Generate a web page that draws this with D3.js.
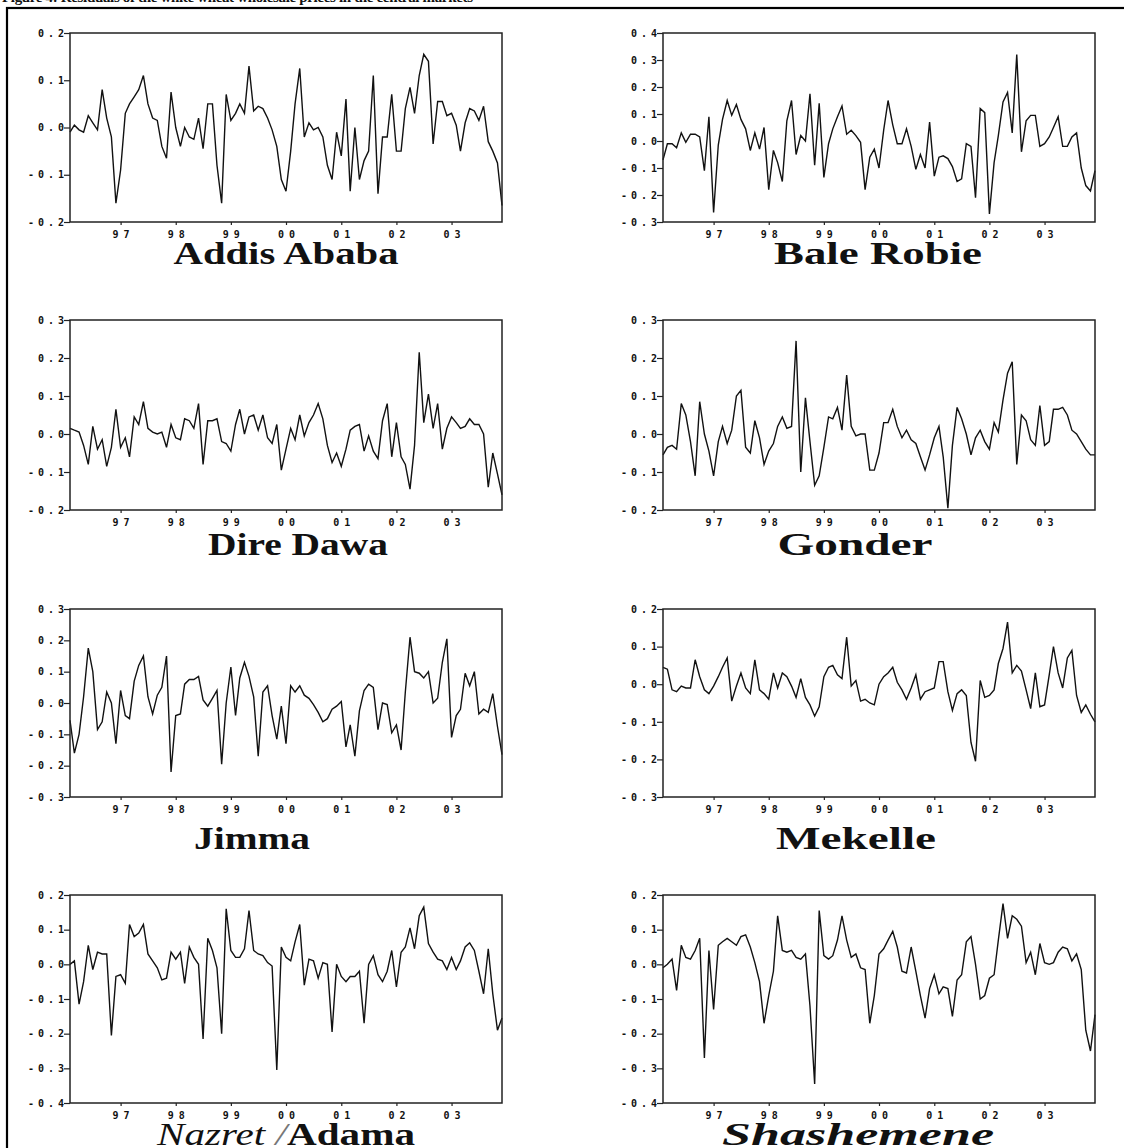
<!DOCTYPE html>
<html>
<head>
<meta charset="utf-8">
<script src="https://cdn.jsdelivr.net/npm/d3@7"></script>
<style>
  body { margin: 0; background: #fff; }
  .tick text { font-family: "DejaVu Sans Mono", monospace; font-weight: bold; font-size: 10px; fill: #111; }
  .domain { display: none; }
  .tick line { stroke: #222; stroke-width: 1.2; }
  .frame { fill: none; stroke: #222; stroke-width: 1.5; }
  .series { fill: none; stroke: #111; stroke-width: 1.4; }
  .title { font-family: "Liberation Serif", "Times New Roman", serif; fill: #111; }
</style>
</head>
<body>
<svg id="figure" width="1124" height="1148"></svg>
<script>
// monthly residuals, Feb 1996 .. Dec 2003 (95 obs per market)
var cities = ["Addis Ababa", "Bale Robie", "Dire Dawa", "Gonder", "Jimma", "Mekelle", "Nazret /Adama", "Shashemene"];

var addisAbaba = [-0.01,0.005,-0.005,-0.01,0.025,0.01,-0.005,0.08,0.02,-0.02,
  -0.16,-0.09,0.03,0.05,0.065,0.08,0.11,0.05,0.02,0.015,
  -0.04,-0.065,0.075,0.0,-0.04,0.0,-0.02,-0.025,0.02,-0.045,
  0.05,0.05,-0.08,-0.16,0.07,0.015,0.03,0.05,0.03,0.13,
  0.035,0.045,0.04,0.02,-0.005,-0.04,-0.11,-0.135,-0.05,0.05,
  0.125,-0.02,0.01,-0.005,0.0,-0.02,-0.08,-0.11,-0.01,-0.06,
  0.06,-0.135,0.0,-0.11,-0.07,-0.05,0.11,-0.14,-0.02,-0.02,
  0.07,-0.05,-0.05,0.04,0.085,0.03,0.11,0.155,0.14,-0.035,
  0.055,0.055,0.025,0.03,0.005,-0.05,0.01,0.04,0.035,0.015,
  0.045,-0.03,-0.05,-0.075,-0.165];

var baleRobie = [-0.07,-0.01,-0.01,-0.025,0.03,-0.005,0.025,0.025,0.015,-0.11,
  0.09,-0.265,-0.015,0.08,0.15,0.095,0.135,0.08,0.045,-0.035,
  0.03,-0.03,0.05,-0.18,-0.035,-0.08,-0.15,0.075,0.15,-0.05,
  0.02,0.0,0.175,-0.09,0.14,-0.135,-0.01,0.045,0.09,0.13,
  0.025,0.04,0.02,-0.005,-0.18,-0.06,-0.03,-0.1,0.04,0.15,
  0.06,-0.01,-0.01,0.045,-0.02,-0.105,-0.05,-0.1,0.07,-0.13,
  -0.06,-0.055,-0.065,-0.095,-0.15,-0.14,-0.01,-0.02,-0.21,0.12,
  0.105,-0.27,-0.08,0.02,0.145,0.18,0.03,0.32,-0.04,0.075,
  0.095,0.095,-0.02,-0.01,0.015,0.05,0.09,-0.02,-0.02,0.015,
  0.03,-0.1,-0.165,-0.185,-0.11];

var direDawa = [0.015,0.01,0.005,-0.03,-0.08,0.02,-0.04,-0.015,-0.085,-0.035,
  0.065,-0.035,-0.01,-0.06,0.045,0.025,0.085,0.015,0.005,0.0,
  0.005,-0.035,0.025,-0.01,-0.015,0.04,0.035,0.015,0.08,-0.08,
  0.035,0.035,0.04,-0.02,-0.025,-0.045,0.025,0.065,0.0,0.045,
  0.05,0.01,0.05,-0.01,-0.025,0.025,-0.095,-0.04,0.015,-0.015,
  0.05,-0.005,0.03,0.05,0.08,0.04,-0.03,-0.075,-0.05,-0.085,
  -0.04,0.01,0.02,0.025,-0.045,-0.005,-0.045,-0.065,0.035,0.08,
  -0.06,0.03,-0.06,-0.08,-0.145,-0.03,0.215,0.03,0.105,0.015,
  0.08,-0.04,0.015,0.045,0.03,0.015,0.02,0.04,0.025,0.025,
  0.0,-0.14,-0.05,-0.105,-0.16];

var gonder = [-0.055,-0.035,-0.03,-0.04,0.08,0.05,-0.02,-0.11,0.085,0.0,
  -0.045,-0.11,-0.02,0.02,-0.025,0.01,0.1,0.115,-0.035,-0.05,
  0.035,-0.01,-0.08,-0.045,-0.025,0.02,0.045,0.015,0.02,0.245,
  -0.1,0.095,-0.02,-0.135,-0.11,-0.035,0.045,0.04,0.07,0.01,
  0.155,0.02,-0.005,0.0,0.0,-0.095,-0.095,-0.05,0.03,0.03,
  0.065,0.02,-0.01,0.01,-0.015,-0.025,-0.06,-0.095,-0.055,-0.01,
  0.02,-0.06,-0.195,-0.03,0.07,0.04,0.0,-0.055,-0.01,0.01,
  -0.02,-0.04,0.03,0.005,0.09,0.16,0.19,-0.08,0.05,0.035,
  -0.015,-0.03,0.075,-0.03,-0.02,0.065,0.065,0.07,0.05,0.01,
  0.0,-0.02,-0.04,-0.055,-0.055];

var jimma = [-0.055,-0.16,-0.1,0.02,0.175,0.1,-0.085,-0.06,0.035,0.0,
  -0.13,0.04,-0.04,-0.05,0.07,0.12,0.15,0.02,-0.035,0.025,
  0.05,0.15,-0.22,-0.04,-0.035,0.06,0.075,0.075,0.085,0.01,
  -0.01,0.015,0.04,-0.195,0.0,0.115,-0.04,0.08,0.13,0.085,
  0.02,-0.17,0.035,0.055,-0.04,-0.115,-0.01,-0.13,0.055,0.035,
  0.055,0.025,0.015,-0.005,-0.03,-0.06,-0.05,-0.02,-0.01,0.005,
  -0.14,-0.07,-0.17,-0.025,0.04,0.06,0.05,-0.085,0.0,-0.005,
  -0.095,-0.07,-0.15,0.035,0.21,0.1,0.095,0.08,0.1,0.0,
  0.015,0.13,0.205,-0.11,-0.04,-0.02,0.095,0.055,0.1,-0.035,
  -0.02,-0.03,0.03,-0.075,-0.165];

var mekelle = [0.045,0.04,-0.015,-0.02,-0.005,-0.01,-0.01,0.065,0.02,-0.015,
  -0.025,-0.005,0.02,0.045,0.07,-0.045,-0.005,0.03,-0.01,-0.025,
  0.065,-0.015,-0.025,-0.04,0.03,-0.01,0.03,0.02,-0.005,-0.035,
  0.015,-0.035,-0.055,-0.085,-0.06,0.02,0.045,0.05,0.025,0.015,
  0.125,-0.005,0.01,-0.045,-0.04,-0.05,-0.055,0.0,0.02,0.03,
  0.045,0.005,-0.015,-0.04,-0.01,0.025,-0.04,-0.02,-0.015,-0.01,
  0.06,0.06,-0.02,-0.07,-0.025,-0.015,-0.03,-0.155,-0.205,0.01,
  -0.035,-0.03,-0.015,0.055,0.095,0.165,0.03,0.05,0.035,-0.015,
  -0.065,0.03,-0.06,-0.055,0.025,0.1,0.03,-0.01,0.07,0.09,
  -0.03,-0.075,-0.055,-0.08,-0.1];

var nazret = [0.0,0.01,-0.115,-0.05,0.055,-0.015,0.035,0.03,0.03,-0.205,
  -0.035,-0.03,-0.055,0.115,0.08,0.09,0.115,0.03,0.01,-0.01,
  -0.045,-0.04,0.035,0.015,0.035,-0.055,0.05,0.02,0.0,-0.215,
  0.075,0.04,-0.01,-0.2,0.16,0.04,0.02,0.02,0.045,0.155,
  0.04,0.03,0.025,0.005,-0.005,-0.305,0.05,0.02,0.01,0.065,
  0.115,-0.06,0.015,0.01,-0.04,0.005,0.0,-0.195,0.0,-0.035,
  -0.05,-0.035,-0.035,-0.02,-0.17,0.0,0.025,-0.03,-0.05,-0.02,
  0.04,-0.065,0.035,0.05,0.105,0.045,0.14,0.165,0.06,0.035,
  0.015,0.01,-0.015,0.02,-0.015,0.01,0.05,0.062,0.04,-0.02,
  -0.085,0.045,-0.085,-0.19,-0.155];

var shashemene = [-0.01,0.0,0.015,-0.075,0.055,0.02,0.015,0.04,0.075,-0.27,
  0.04,-0.13,0.055,0.065,0.075,0.065,0.055,0.08,0.085,0.05,
  0.005,-0.05,-0.17,-0.09,-0.02,0.14,0.04,0.035,0.04,0.02,
  0.015,0.03,-0.12,-0.345,0.155,0.025,0.015,0.025,0.07,0.14,
  0.07,0.02,0.03,-0.01,-0.015,-0.17,-0.09,0.03,0.045,0.07,
  0.095,0.05,-0.02,-0.025,0.05,-0.02,-0.09,-0.155,-0.07,-0.03,
  -0.085,-0.065,-0.07,-0.15,-0.045,-0.03,0.065,0.08,0.0,-0.1,
  -0.09,-0.04,-0.03,0.07,0.175,0.075,0.14,0.13,0.11,0.005,
  0.035,-0.03,0.06,0.005,0.0,0.005,0.035,0.05,0.045,0.01,
  0.03,-0.015,-0.19,-0.25,-0.145];

// y tick values of each panel
var ticksAddis = [-0.2, -0.1, 0, 0.1, 0.2];
var ticksBale = [-0.3, -0.2, -0.1, 0, 0.1, 0.2, 0.3, 0.4];
var ticksDire = [-0.2, -0.1, 0, 0.1, 0.2, 0.3];
var ticksGonder = [-0.2, -0.1, 0, 0.1, 0.2, 0.3];
var ticksJimma = [-0.3, -0.2, -0.1, 0, 0.1, 0.2, 0.3];
var ticksMekelle = [-0.3, -0.2, -0.1, 0, 0.1, 0.2];
var ticksNazret = [-0.4, -0.3, -0.2, -0.1, 0, 0.1, 0.2];
var ticksShash = [-0.4, -0.3, -0.2, -0.1, 0, 0.1, 0.2];

var yearLabels = ["97", "98", "99", "00", "01", "02", "03"];

var seriesList = [addisAbaba, baleRobie, direDawa, gonder, jimma, mekelle, nazret, shashemene];
var tickList = [ticksAddis, ticksBale, ticksDire, ticksGonder, ticksJimma, ticksMekelle, ticksNazret, ticksShash];

var svg = d3.select("#figure");

var months = d3.timeMonth.range(new Date(1996, 1, 1), new Date(2004, 0, 1));
var years = d3.timeYear.range(new Date(1997, 0, 1), new Date(2004, 0, 1));

var plotW = 432;
var colX = [70, 663];
var rowY = [33, 320, 609, 895];
var rowH = [189, 190, 188, 208];
var titleY = [264, 555, 849, 1145];

// caption centre x and width under each panel
var titleBox = [
  {cx: 286, len: 225}, {cx: 878, len: 208},
  {cx: 298, len: 180}, {cx: 855, len: 155},
  {cx: 252, len: 116}, {cx: 856, len: 160},
  {cx: 286, len: 258}, {cx: 858, len: 272}
];

// outer frame and clipped caption at the top
svg.append("rect")
  .attr("x", 7).attr("y", 8)
  .attr("width", 1140).attr("height", 1160)
  .attr("fill", "none").attr("stroke", "#000").attr("stroke-width", 2.2);

svg.append("text")
  .attr("class", "title")
  .attr("x", 2).attr("y", 2)
  .attr("textLength", 471)
  .style("font-size", "15px").style("font-weight", "bold")
  .text("Figure 4: Residuals of the white wheat wholesale prices in the central markets");

var fmt = function(d) { return d.toFixed(1); };

seriesList.forEach(function(values, i) {
  var r = Math.floor(i / 2);
  var ox = colX[i % 2], oy = rowY[r], plotH = rowH[r];
  var g = svg.append("g").attr("transform", "translate(" + ox + "," + oy + ")");

  var x = d3.scaleTime()
    .domain([months[0], months[months.length - 1]])
    .range([0, plotW]);
  var y = d3.scaleLinear()
    .domain(d3.extent(tickList[i]))
    .range([plotH, 0]);

  var yAxis = g.append("g")
    .call(d3.axisLeft(y).tickValues(tickList[i]).tickSize(6).tickFormat(fmt));
  yAxis.selectAll("text")
    .attr("x", -2)
    .style("letter-spacing", "4px");

  var xAxis = g.append("g")
    .attr("transform", "translate(0," + plotH + ")")
    .call(d3.axisBottom(x).tickValues(years).tickSize(3)
      .tickFormat(function(d, j) { return yearLabels[j]; }));
  xAxis.selectAll("text")
    .attr("y", 9)
    .attr("dx", 2.5)
    .style("letter-spacing", "5px");

  var line = d3.line()
    .x(function(d, j) { return x(months[j]); })
    .y(function(d) { return y(d); });

  g.append("path")
    .datum(values)
    .attr("class", "series")
    .attr("d", line);

  g.append("rect")
    .attr("class", "frame")
    .attr("width", plotW)
    .attr("height", plotH);

  // caption under the panel
  var tb = titleBox[i];
  var t = svg.append("text")
    .attr("class", "title")
    .attr("x", tb.cx)
    .attr("y", titleY[r])
    .attr("text-anchor", "middle")
    .attr("textLength", tb.len)
    .attr("lengthAdjust", "spacingAndGlyphs")
    .style("font-size", "31px");

  if (i === 6) {
    t.append("tspan").style("font-style", "italic").text("Nazret");
    t.append("tspan").style("font-style", "italic").style("fill", "#777").text(" /");
    t.append("tspan").style("font-weight", "bold").text("Adama");
  } else if (i === 7) {
    t.style("font-style", "italic").style("font-weight", "bold")
      .style("font-size", "32px").text(cities[i]);
  } else {
    t.style("font-weight", "bold").text(cities[i]);
  }
});
</script>
</body>
</html>
